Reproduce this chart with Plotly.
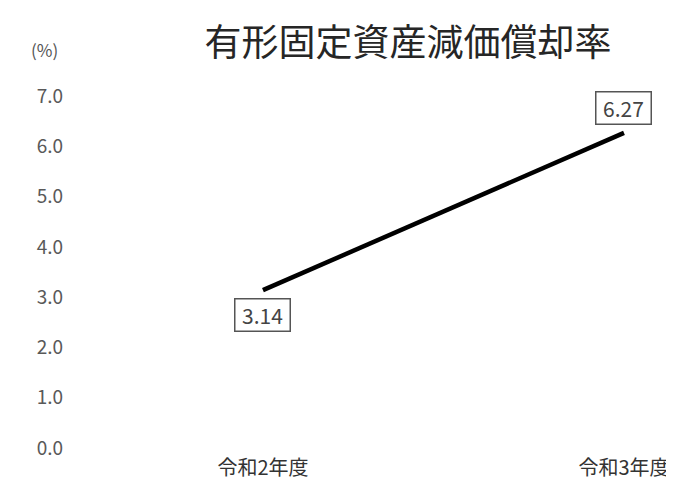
import plotly.graph_objects as go

# Data
categories = ["令和2年度", "令和3年度"]
values = [3.14, 6.27]
label_shift = [-25, 25]
y_ticks = [0, 1, 2, 3, 4, 5, 6, 7]
y_tick_labels = [f"{v:.1f}" for v in y_ticks]
title_text = "有形固定資産減価償却率"
unit_text = "(%)"

FONT = "Noto Sans CJK JP"

fig = go.Figure()
fig.add_trace(go.Scatter(
    x=categories, y=values, mode="lines",
    line=dict(color="#000000", width=4.5),
    hoverinfo="skip", showlegend=False,
))

for c, v, s in zip(categories, values, label_shift):
    fig.add_annotation(
        x=c, y=v, xref="x", yref="y", text=f"{v:.2f}", showarrow=False,
        yshift=s, font=dict(family=FONT, size=21, color="#444444"),
        width=50, height=27, align="center", valign="middle",
        bordercolor="#555555", borderwidth=1.5, borderpad=2, bgcolor="#ffffff",
    )

fig.add_annotation(
    x=-0.032, y=1.047, xref="paper", yref="paper", text=unit_text,
    showarrow=False, font=dict(family=FONT, size=17, color="#555555"),
    xanchor="center", yanchor="middle",
)

fig.update_layout(
    width=674, height=480,
    margin=dict(l=56, r=0, t=60, b=34),
    paper_bgcolor="#ffffff", plot_bgcolor="#ffffff",
    title=dict(text=title_text, x=400 / 674, y=1 - 35 / 480,
               xref="container", yref="container",
               xanchor="center", yanchor="middle",
               font=dict(family=FONT, size=37, color="#262626")),
    xaxis=dict(type="category", range=[-0.551, 1.1607], showgrid=False,
               zeroline=False, showline=False, ticks="",
               tickfont=dict(family=FONT, size=20, color="#333333")),
    yaxis=dict(range=[-0.12, 7.56], tickvals=y_ticks, ticktext=y_tick_labels,
               showgrid=False, zeroline=False, showline=False, ticks="",
               tickfont=dict(family=FONT, size=19, color="#595959")),
)

fig.write_html("out.html")
